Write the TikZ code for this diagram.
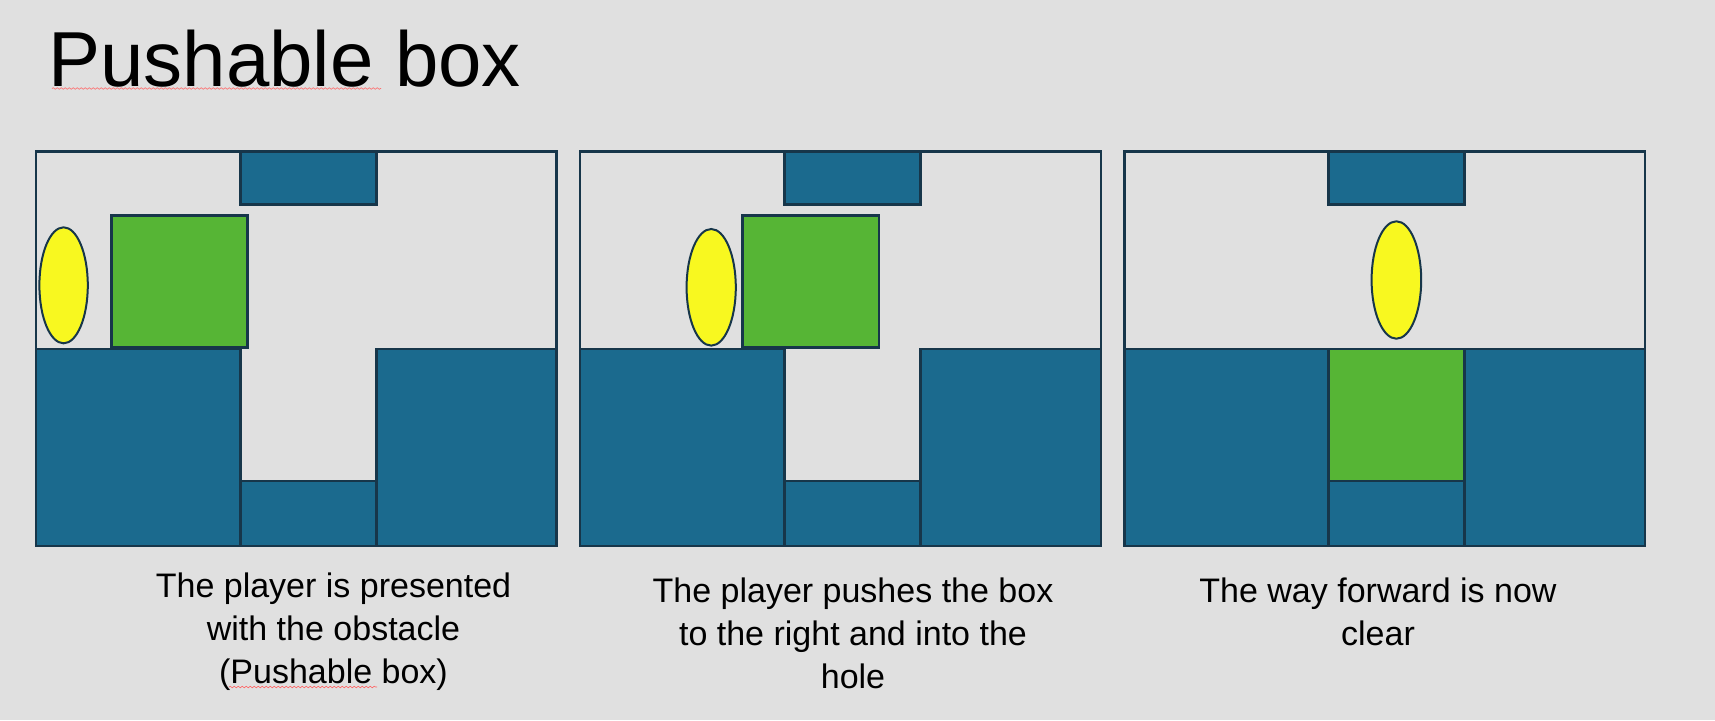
\documentclass[tikz,border=0pt]{standalone}
\usepackage{fontspec}
\setmainfont{Liberation Sans}
\usepackage{xcolor}
\usepackage{tikz}
\usetikzlibrary{decorations.pathmorphing}

\definecolor{slidebg}{HTML}{E0E0E0}
\definecolor{levelblue}{HTML}{1B6A8E}
\definecolor{edgeblue}{HTML}{17364A}
\definecolor{boxgreen}{HTML}{56B535}
\definecolor{playeryellow}{HTML}{F8F820}

\begin{document}
\begin{tikzpicture}[x=0.5pt, y=-0.5pt,
levelframe/.style={draw=edgeblue, line width=1.2pt, fill=slidebg},
wall/.style={draw=edgeblue, line width=1.2pt, fill=levelblue},
crate/.style={draw=edgeblue, line width=1.2pt, fill=boxgreen},
player/.style={draw=edgeblue, line width=1pt, fill=playeryellow},
captiontext/.style={align=center, inner sep=0pt, anchor=north, font=\fontsize{17}{21.6}\selectfont},
squiggle/.style={draw=red!60, line width=0.3pt, decorate, decoration={snake, amplitude=0.4pt, segment length=2pt}}]

\fill[slidebg] (0,0) rectangle (1715,720);
\useasboundingbox (0,0) rectangle (1715,720);

\node[anchor=base west, inner sep=0pt, font=\fontsize{39}{47}\selectfont] (title) at (48,86) {Pushable box};

% the three level panels
\foreach \l in {36.1,580.2,1124.3}{
  \begin{scope}[shift={(\l,0)}]
  \draw[levelframe] (0,151.3) rectangle (520.5,546);
  \draw[wall] (204.2,151.3) rectangle (340.2,204.5);
  \draw[wall] (0,349) rectangle (204.2,546);
  \draw[wall] (204.2,481) rectangle (340.2,546);
  \draw[wall] (340.2,349) rectangle (520.5,546);
  \end{scope}
}

% panel 1
\draw[crate] (111.4,215.3) rectangle (247.5,347.3);
\draw[player] (63.6,285.3) ellipse [x radius=24.2, y radius=58];
% panel 2
\draw[crate] (742.3,215.3) rectangle (878.7,347.3);
\draw[player] (711.2,287.3) ellipse [x radius=24.6, y radius=58.3];
% panel 3
\draw[crate] (1328.5,349) rectangle (1464.5,481);
\draw[player] (1396.4,280) ellipse [x radius=24.8, y radius=58.7];

\node[captiontext] (cap1) at (333.5,572) {The player is presented\\with the obstacle\\(Pushable box)};
\node[captiontext] (cap2) at (853,577) {The player pushes the box\\to the right and into the\\hole};
\node[captiontext] (cap3) at (1378,577) {The way forward is now\\clear};

% spell check marks
\draw[squiggle] (52,88.5) -- (381,88.5);
\draw[squiggle] (229,687) -- (377,687);
\end{tikzpicture}
\end{document}
